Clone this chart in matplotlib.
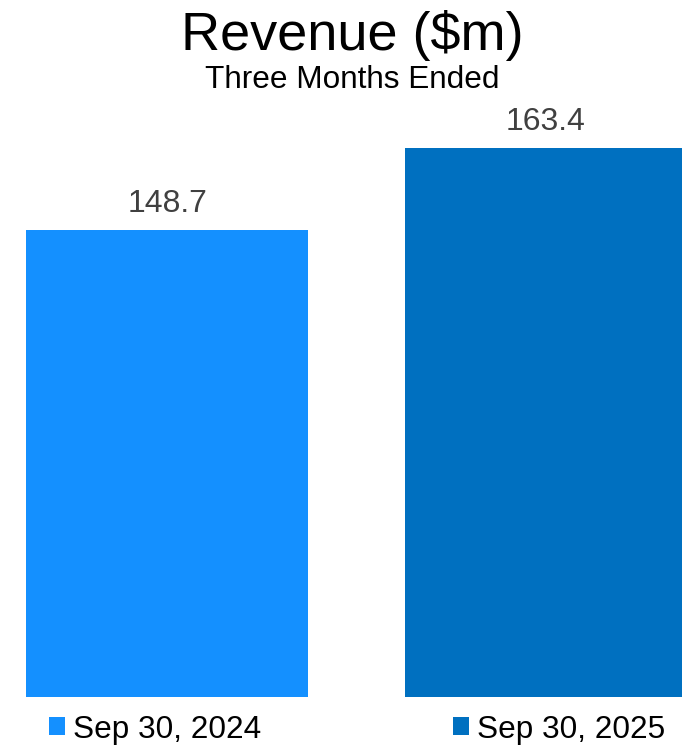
import matplotlib.pyplot as plt

plt.rcParams['font.family'] = ['Liberation Sans', 'DejaVu Sans']

periods = ["Sep 30, 2024", "Sep 30, 2025"]
revenue = [148.7, 163.4]
colors = ["#1490FF", "#0070C0"]

fig = plt.figure(figsize=(6.82, 7.46), dpi=100)
# axes placed so the bars land where they are in the original
ax = fig.add_axes([26 / 682, 49 / 746, 656 / 682, 597 / 746])

for i, (p, v, c) in enumerate(zip(periods, revenue, colors)):
    ax.bar(i, v, width=0.745, color=c, label=p)
    ax.text(i, v + 3.3, f"{v:.1f}", ha="center", va="baseline",
            fontsize=23, color="#404040")

ax.set_xlim(-0.373, 1.36)
ax.set_ylim(65, 172)
ax.axis("off")

fig.text(0.517, 0.952, "Revenue ($m)", ha="center", va="center", fontsize=39)
fig.text(0.516, 0.893, "Three Months Ended", ha="center", va="center", fontsize=22.7)

fig.legend(loc="center", bbox_to_anchor=(0.524, 0.022), ncol=2,
           frameon=False, fontsize=22.7, handlelength=0.5, handleheight=0.5,
           handletextpad=0.25, columnspacing=6.1)

fig.savefig("out.png", dpi=100)
